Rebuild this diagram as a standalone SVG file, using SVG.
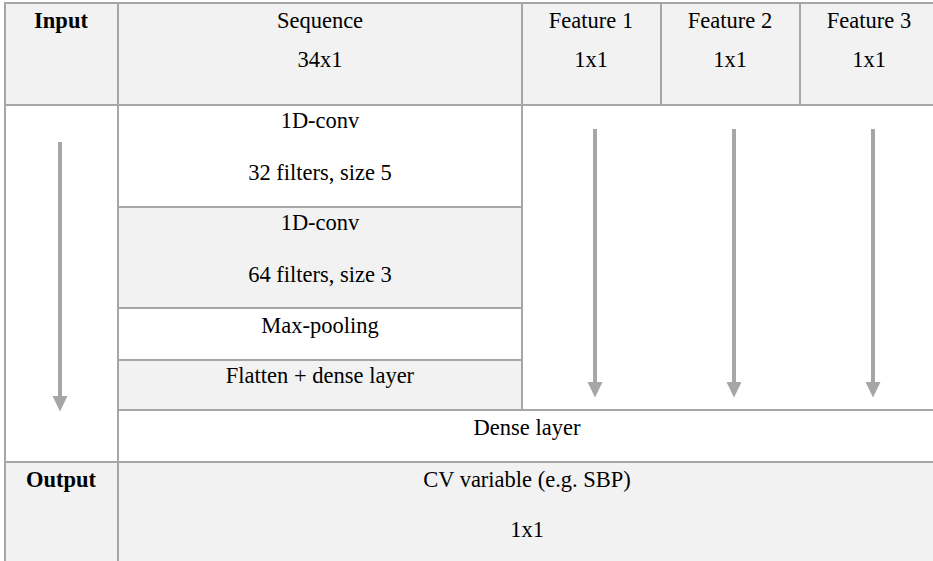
<svg xmlns="http://www.w3.org/2000/svg" width="933" height="561" viewBox="0 0 933 561">
<style>
.g{fill:#f2f2f2}
.w{fill:#ffffff}
.ln{stroke:#a6a6a6;stroke-width:2;fill:none}
.ar{stroke:#a6a6a6;stroke-width:4;fill:none}
.t{font-size:22.5px;fill:#000;text-anchor:middle}
.b{font-weight:bold}
</style>
<defs>
<marker id="ah" markerUnits="userSpaceOnUse" markerWidth="16" markerHeight="16" refX="0" refY="7.5" orient="auto">
<path d="M0,0 L15.5,7.5 L0,15 z" fill="#a6a6a6"/>
</marker>
</defs>
<rect x="0" y="0" width="933" height="561" fill="#ffffff"/>
<g id="input-label">
<rect class="g" x="5" y="3" width="113" height="102"/>
<text class="t b" font-family="Liberation Serif" x="61" y="28">Input</text>
</g>
<g id="sequence">
<rect class="g" x="118" y="3" width="404" height="102"/>
<text class="t" font-family="Liberation Serif" x="320" y="28">Sequence</text>
<text class="t" font-family="Liberation Serif" x="320" y="67">34x1</text>
</g>
<g id="feature1">
<rect class="g" x="522" y="3" width="139" height="102"/>
<text class="t" font-family="Liberation Serif" x="591" y="28">Feature 1</text>
<text class="t" font-family="Liberation Serif" x="591" y="67">1x1</text>
</g>
<g id="feature2">
<rect class="g" x="661" y="3" width="139" height="102"/>
<text class="t" font-family="Liberation Serif" x="730" y="28">Feature 2</text>
<text class="t" font-family="Liberation Serif" x="730" y="67">1x1</text>
</g>
<g id="feature3">
<rect class="g" x="800" y="3" width="133" height="102"/>
<text class="t" font-family="Liberation Serif" x="869" y="28">Feature 3</text>
<text class="t" font-family="Liberation Serif" x="869" y="67">1x1</text>
</g>
<g id="conv1">
<rect class="w" x="118" y="105" width="404" height="102"/>
<text class="t" font-family="Liberation Serif" x="320" y="128">1D-conv</text>
<text class="t" font-family="Liberation Serif" x="320" y="180">32 filters, size 5</text>
</g>
<g id="conv2">
<rect class="g" x="118" y="207" width="404" height="101"/>
<text class="t" font-family="Liberation Serif" x="320" y="230">1D-conv</text>
<text class="t" font-family="Liberation Serif" x="320" y="282">64 filters, size 3</text>
</g>
<g id="maxpool">
<rect class="w" x="118" y="308" width="404" height="52"/>
<text class="t" font-family="Liberation Serif" x="320" y="333">Max-pooling</text>
</g>
<g id="flatten">
<rect class="g" x="118" y="360" width="404" height="50"/>
<text class="t" font-family="Liberation Serif" x="320" y="383">Flatten + dense layer</text>
</g>
<g id="dense">
<rect class="w" x="118" y="410" width="815" height="52"/>
<text class="t" font-family="Liberation Serif" x="527" y="435">Dense layer</text>
</g>
<g id="output-label">
<rect class="g" x="5" y="462" width="113" height="99"/>
<text class="t b" font-family="Liberation Serif" x="61" y="487">Output</text>
</g>
<g id="output">
<rect class="g" x="118" y="462" width="815" height="99"/>
<text class="t" font-family="Liberation Serif" x="527" y="487">CV variable (e.g. SBP)</text>
<text class="t" font-family="Liberation Serif" x="527" y="537">1x1</text>
</g>
<g id="grid">
<path class="ln" d="M5,3 H933 M5,105 H933 M118,207 H522 M118,308 H522 M118,360 H522 M118,410 H933 M5,462 H933"/>
<path class="ln" d="M5,2 V561 M118,2 V561 M522,2 V410 M661,2 V105 M800,2 V105"/>
</g>
<g id="connectors">
<line class="ar" x1="60" y1="142" x2="60" y2="396" marker-end="url(#ah)"/>
<line class="ar" x1="595" y1="129" x2="595" y2="382" marker-end="url(#ah)"/>
<line class="ar" x1="734" y1="129" x2="734" y2="382" marker-end="url(#ah)"/>
<line class="ar" x1="873" y1="129" x2="873" y2="382" marker-end="url(#ah)"/>
</g>
</svg>
